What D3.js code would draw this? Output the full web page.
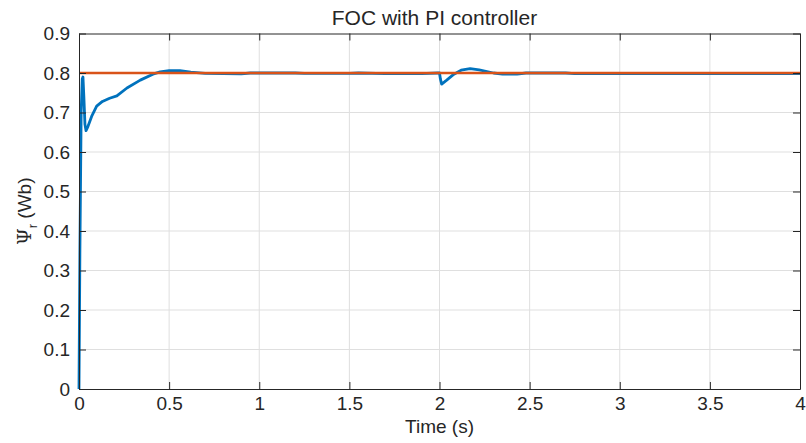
<!doctype html>
<html>
<head>
<meta charset="utf-8">
<title>FOC with PI controller</title>
<script src="https://cdn.jsdelivr.net/npm/d3@7"></script>
<style>
  body { margin: 0; background: #fff; }
  text { font-family: "Liberation Sans", Arial, sans-serif; fill: #262626; }
</style>
</head>
<body>
<svg width="806" height="443"></svg>
<script>
// rotor flux from the PI controlled FOC run
var timeS = [0, 0.005, 0.012, 0.018, 0.022, 0.027, 0.033, 0.039, 0.05, 0.07, 0.098, 0.13, 0.17, 0.21,
  0.266, 0.34, 0.41, 0.45, 0.5, 0.56, 0.62, 0.7, 0.9, 0.95, 1.2, 1.25, 1.5, 1.55, 1.7, 1.9, 1.99,
  2.0, 2.005, 2.012, 2.04, 2.08, 2.12, 2.17, 2.22, 2.3, 2.35, 2.43, 2.48, 2.7, 2.75, 2.95, 3.0,
  3.5, 4.0];
var fluxWb = [0, 0.35, 0.70, 0.785, 0.79, 0.74, 0.67, 0.654, 0.665, 0.69, 0.716, 0.728, 0.736, 0.742,
  0.762, 0.782, 0.797, 0.803, 0.806, 0.806, 0.802, 0.799, 0.798, 0.8, 0.8, 0.799, 0.799, 0.8, 0.7985, 0.7985, 0.8,
  0.8, 0.785, 0.772, 0.782, 0.797, 0.807, 0.811, 0.808, 0.80, 0.797, 0.797, 0.8, 0.8, 0.7985, 0.7985, 0.799,
  0.7985, 0.7985];
var refTime = [0, 4];
var refFlux = [0.8, 0.8];
var xTicks = [0, 0.5, 1, 1.5, 2, 2.5, 3, 3.5, 4];
var yTicks = [0, 0.1, 0.2, 0.3, 0.4, 0.5, 0.6, 0.7, 0.8, 0.9];

var svg = d3.select("svg"),
    margin = { top: 33.5, right: 6, bottom: 54, left: 79 },
    width = +svg.attr("width") - margin.left - margin.right,
    height = +svg.attr("height") - margin.top - margin.bottom,
    g = svg.append("g").attr("transform", "translate(" + margin.left + "," + margin.top + ")");

var x = d3.scaleLinear().domain([0, 4]).range([0, width]);
var y = d3.scaleLinear().domain([0, 0.9]).range([height, 0]);

// grid
g.append("g").selectAll("line").data(xTicks.slice(1, -1)).enter().append("line")
  .attr("x1", d => x(d)).attr("x2", d => x(d)).attr("y1", 0).attr("y2", height)
  .attr("stroke", "#dfdfdf").attr("stroke-width", 1);
g.append("g").selectAll("line").data(yTicks.slice(1, -1)).enter().append("line")
  .attr("y1", d => y(d)).attr("y2", d => y(d)).attr("x1", 0).attr("x2", width)
  .attr("stroke", "#dfdfdf").attr("stroke-width", 1);

// lines
var line = d3.line().x(d => x(d[0])).y(d => y(d[1]));
g.append("path").datum(d3.zip(timeS, fluxWb))
  .attr("fill", "none").attr("stroke", "#0072BD").attr("stroke-width", 2.8)
  .attr("stroke-linejoin", "round").attr("d", line);
g.append("path").datum(d3.zip(refTime, refFlux))
  .attr("fill", "none").attr("stroke", "#D95319").attr("stroke-width", 2.6).attr("d", line);

// box axes
function styleAxis(s) {
  s.select(".domain").attr("stroke", "#262626");
  s.selectAll(".tick line").attr("stroke", "#262626");
  s.selectAll(".tick text").style("font-size", "19px").attr("fill", "#262626");
}
g.append("g").attr("transform", "translate(0," + height + ")")
  .call(d3.axisBottom(x).tickValues(xTicks).tickSize(-7).tickPadding(8).tickFormat(d3.format("")).tickSizeOuter(0))
  .call(styleAxis);
g.append("g")
  .call(d3.axisTop(x).tickValues(xTicks).tickSize(-7).tickFormat("").tickSizeOuter(0))
  .call(styleAxis);
g.append("g")
  .call(d3.axisLeft(y).tickValues(yTicks).tickSize(-7).tickPadding(9).tickFormat(d3.format("")).tickSizeOuter(0))
  .call(styleAxis);
g.append("g").attr("transform", "translate(" + width + ",0)")
  .call(d3.axisRight(y).tickValues(yTicks).tickSize(-7).tickFormat("").tickSizeOuter(0))
  .call(styleAxis);
svg.selectAll(".tick text").attr("font-family", null);

// labels
svg.append("text").attr("x", margin.left + width / 2 - 5).attr("y", 24.5)
  .attr("text-anchor", "middle").style("font-size", "21px").text("FOC with PI controller");
svg.append("text").attr("x", margin.left + width / 2).attr("y", 433)
  .attr("text-anchor", "middle").style("font-size", "19px").text("Time (s)");
var yl = svg.append("text").attr("transform", "translate(31," + (margin.top + height / 2) + ") rotate(-90)")
  .attr("text-anchor", "middle").style("font-size", "19px");
yl.append("tspan").style("font-family", "'DejaVu Serif', serif").text("\u03A8");
yl.append("tspan").attr("dy", 6).style("font-size", "13px").text("r");
yl.append("tspan").attr("dy", -6).text(" (Wb)");
</script>
</body>
</html>
